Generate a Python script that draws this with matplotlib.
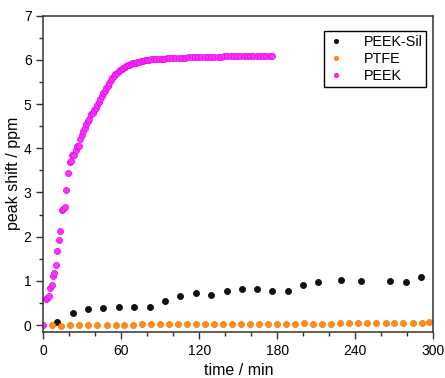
import numpy as np
import matplotlib
matplotlib.use('Agg')
import matplotlib.pyplot as plt
from matplotlib.ticker import MultipleLocator

plt.rcParams['font.family'] = ['Liberation Sans', 'DejaVu Sans']

# PEEK-Sil (black)
sil_t = [10.8, 22.6, 34.4, 46.2, 58.2, 70.0, 81.8, 93.6, 105.4, 117.2, 129.0, 141.0,
         152.6, 164.4, 176.2, 188.0, 199.7, 211.5, 228.7, 244.6, 266.9, 278.7, 290.8]
sil_y = [0.07, 0.28, 0.37, 0.39, 0.42, 0.40, 0.40, 0.54, 0.65, 0.73, 0.67, 0.78,
         0.82, 0.82, 0.77, 0.77, 0.90, 0.98, 1.02, 0.99, 1.00, 0.98, 1.09]

# PTFE (orange)
ptfe_t = [6.4, 13.6, 20.8, 27.7, 34.6, 41.5, 48.7, 55.6, 62.3, 69.2, 76.1, 83.0,
          89.9, 96.8, 103.7, 110.6, 117.6, 124.5, 131.4, 138.4, 145.3, 152.2, 159.2,
          166.1, 173.0, 180.0, 186.9, 193.8, 200.8, 207.7, 214.6, 221.6, 228.5, 235.4,
          242.4, 249.3, 256.2, 263.2, 270.1, 277.0, 284.0, 290.9, 297.0]
ptfe_y = [0.0, -0.01, 0.0, 0.0, 0.0, 0.01, 0.01, 0.01, 0.01, 0.01, 0.02, 0.02,
          0.02, 0.02, 0.02, 0.02, 0.02, 0.02, 0.03, 0.02, 0.03, 0.03, 0.02,
          0.03, 0.03, 0.03, 0.03, 0.03, 0.04, 0.03, 0.03, 0.03, 0.04, 0.04,
          0.04, 0.04, 0.04, 0.04, 0.05, 0.04, 0.05, 0.04, 0.06]

# PEEK (magenta)
peek_t = [0, 1.8, 3.1, 4.4, 5.4, 6.4, 7.2, 8.5, 9.7, 10.8, 12.1, 13.1, 14.4, 15.4,
          16.7, 17.7, 19.0, 20.3, 21.3, 22.3, 23.6, 24.9, 25.9, 27.2, 28.2, 29.5,
          30.8, 31.8, 33.1, 34.1, 35.4, 36.7, 37.9, 39.0, 40.3, 41.3, 42.6, 43.6,
          44.9, 46.2, 47.2, 48.5, 49.5, 50.8, 52.1, 53.1, 54.4, 55.4, 56.7, 57.9,
          59.0, 60.3, 61.5, 62.6, 63.8, 64.9, 66.2, 67.2, 68.5, 69.7, 71.0, 72.3,
          73.6, 75.0, 76.5, 78.0, 79.5, 81.0, 83.0, 85.0, 87.0, 89.0, 91.0, 93.0,
          95.0, 97.0, 99.0, 101.5, 104.0, 106.5, 109.0, 111.5, 114.0, 116.5, 119.0,
          121.5, 124.0, 126.5, 129.0, 131.5, 134.0, 136.5, 139.0, 141.5, 144.0,
          146.5, 149.0, 151.5, 154.0, 156.5, 159.0, 161.5, 164.0, 166.5, 169.0,
          171.5, 174.0, 176.0]
peek_y = [0, 0.60, 0.62, 0.65, 0.83, 0.90, 1.10, 1.17, 1.35, 1.67, 1.92, 2.12,
          2.61, 2.63, 2.67, 3.06, 3.44, 3.69, 3.71, 3.84, 3.85, 3.96, 4.06, 4.06,
          4.21, 4.31, 4.38, 4.47, 4.55, 4.61, 4.67, 4.78, 4.80, 4.86, 4.92, 4.98,
          5.05, 5.11, 5.18, 5.25, 5.30, 5.36, 5.42, 5.48, 5.54, 5.58, 5.63, 5.67,
          5.71, 5.74, 5.77, 5.80, 5.82, 5.84, 5.86, 5.88, 5.89, 5.91, 5.92, 5.93,
          5.94, 5.95, 5.96, 5.97, 5.98, 5.99, 5.99, 6.00, 6.01, 6.01, 6.02, 6.02,
          6.03, 6.03, 6.04, 6.04, 6.04, 6.05, 6.05, 6.05, 6.05, 6.06, 6.06, 6.06,
          6.06, 6.06, 6.07, 6.07, 6.07, 6.07, 6.07, 6.07, 6.08, 6.08, 6.08, 6.08,
          6.08, 6.08, 6.08, 6.08, 6.09, 6.09, 6.09, 6.09, 6.09, 6.09, 6.09, 6.09]

fig = plt.figure(figsize=(4.45, 3.78), dpi=100)
ax = fig.add_axes([0.0974, 0.1225, 0.8764, 0.836])

ms = 4.4
ax.plot(sil_t, sil_y, 'o', ms=ms, color='#111111', mec='#000000', mew=0.5, label='PEEK-Sil')
ax.plot(ptfe_t, ptfe_y, 'o', ms=ms, color='#ff8c1a', mec='#f07800', mew=0.5, label='PTFE')
ax.plot(peek_t, peek_y, 'o', ms=ms, color='#ff33ff', mec='#e600e6', mew=0.5, label='PEEK')

ax.set_xlim(0, 300)
ax.set_ylim(-0.15, 7)
ax.xaxis.set_major_locator(MultipleLocator(60))
ax.xaxis.set_minor_locator(MultipleLocator(20))
ax.yaxis.set_major_locator(MultipleLocator(1))
ax.yaxis.set_minor_locator(MultipleLocator(0.5))
ax.tick_params(which='both', direction='out', top=False, right=False, labelsize=10,
               color='#333333')
ax.tick_params(which='major', length=5, width=1)
ax.tick_params(which='minor', length=3, width=1)
for sp in ax.spines.values():
    sp.set_linewidth(1.1)
    sp.set_color('#333333')

ax.set_xlabel('time / min', fontsize=11.5)
ax.set_ylabel('peak shift / ppm', fontsize=11.5, labelpad=2)

leg = ax.legend(loc='upper right', bbox_to_anchor=(0.981, 0.951), borderaxespad=0,
                fontsize=10.4, markerscale=0.7, fancybox=False, framealpha=1,
                edgecolor='black', handletextpad=1.3, borderpad=0.25,
                labelspacing=0.22, handlelength=1.2)
leg.get_frame().set_linewidth(1)

fig.savefig('out.png', dpi=100)
